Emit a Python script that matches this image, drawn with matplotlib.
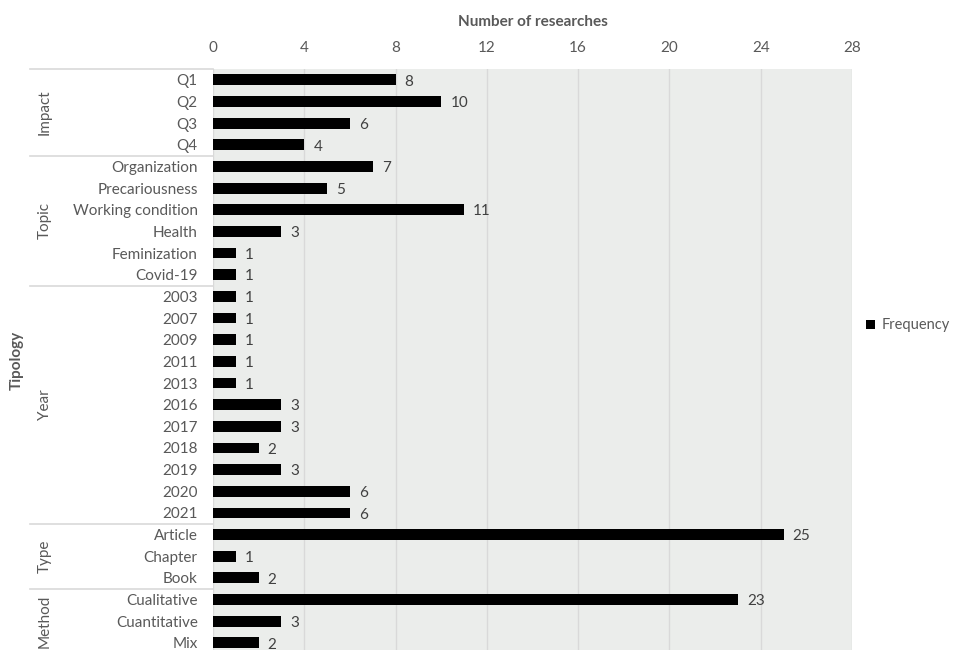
import matplotlib.pyplot as plt
from matplotlib.transforms import blended_transform_factory

plt.rcParams['font.family'] = ['Lato', 'DejaVu Sans']

# Frequency of researches by tipology
impact = ["Q1", "Q2", "Q3", "Q4"]
impact_n = [8, 10, 6, 4]
topic = ["Organization", "Precariousness", "Working condition", "Health", "Feminization", "Covid-19"]
topic_n = [7, 5, 11, 3, 1, 1]
year = ["2003", "2007", "2009", "2011", "2013", "2016", "2017", "2018", "2019", "2020", "2021"]
year_n = [1, 1, 1, 1, 1, 3, 3, 2, 3, 6, 6]
tipo = ["Article", "Chapter", "Book"]
tipo_n = [25, 1, 2]
method = ["Cualitative", "Cuantitative", "Mix"]
method_n = [23, 3, 2]

gruppi = [("Impact", impact, impact_n),
          ("Topic", topic, topic_n),
          ("Year", year, year_n),
          ("Type", tipo, tipo_n),
          ("Method", method, method_n)]

etichette = []
valori = []
for nome, cat, n in gruppi:
    etichette += cat
    valori += n
pos = list(range(len(etichette)))

grigio = "#595959"
fs = 11
fig = plt.figure(figsize=(9.54, 6.5), dpi=100)
ax = fig.add_axes([213 / 954, (650 - 653.7) / 650, 639 / 954, 584.7 / 650])
ax.set_facecolor("#ebedeb")

ax.barh(pos, valori, height=0.5, color="black", label="Frequency", zorder=3)
for p, v in zip(pos, valori):
    ax.text(v + 0.4, p + 0.08, str(v), va="center", ha="left", fontsize=fs, color="#404040")

ax.set_xlim(0, 28)
ax.set_ylim(len(etichette) - 0.5, -0.5)
ax.set_xticks(range(0, 29, 4))
ax.xaxis.tick_top()
ax.xaxis.set_label_position("top")
ax.set_xlabel("Number of researches", fontsize=fs, fontweight="bold", color=grigio, labelpad=11)
ax.set_yticks(pos)
ax.set_yticklabels(etichette)
ax.tick_params(axis="both", length=0, labelsize=fs, labelcolor=grigio)
ax.tick_params(axis="y", pad=11)
ax.tick_params(axis="x", pad=10)
ax.grid(axis="x", color="#d9d9d9", linewidth=1, zorder=0)
for s in ax.spines.values():
    s.set_visible(False)

# group labels and separators on the left
trans = blended_transform_factory(fig.transFigure, ax.transData)
inizio = -0.5
for nome, cat, n in gruppi:
    fine = inizio + len(cat)
    ax.plot([30 / 954, 213 / 954], [inizio, inizio], transform=trans, color="#d9d9d9",
            linewidth=1.2, clip_on=False)
    ax.text(45 / 954, (inizio + fine) / 2, nome, transform=trans, rotation=90,
            ha="center", va="center", fontsize=fs, color=grigio)
    inizio = fine

fig.text(17 / 954, 1 - 360 / 650, "Tipology", rotation=90, ha="center", va="center",
         fontsize=fs, fontweight="bold", color=grigio)

ax.legend(loc="center left", bbox_to_anchor=(1.0219, 0.5 + (653.7 - 650) / 2 / 584.7 + (361 - 327) / 584.7),
          frameon=False, fontsize=10.5, handlelength=0.65, handleheight=0.65, handletextpad=0.4,
          borderpad=0, borderaxespad=0, labelcolor=grigio)

fig.savefig("out.png", dpi=100)
